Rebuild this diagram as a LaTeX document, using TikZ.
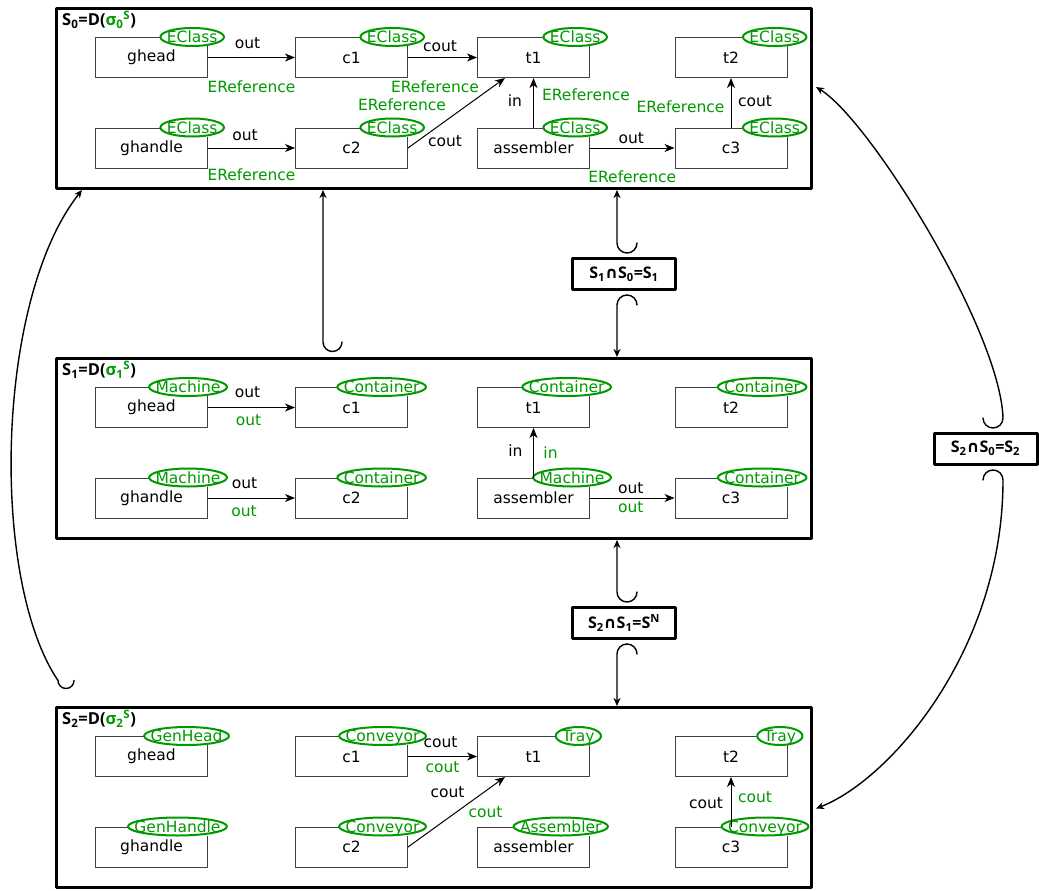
\documentclass[tikz,border=0pt]{standalone}
\usepackage{fontspec}
\setmainfont{DejaVu Sans}
\newfontfamily\headfont{Open Sans}
\newfontfamily\symfont{DejaVu Sans}
\usetikzlibrary{arrows.meta,calc}
\definecolor{clsgreen}{RGB}{0,153,0}
\newcommand\clsmark[3][18]{%
  \node[clstext,anchor=east] (#2l) at ([xshift=#1pt]#2.north east) {#3};
  \draw[clsring] let \p1=($(#2l.north east)-(#2l.center)$) in (#2l.center) ellipse ({\x1} and {\y1});}
\newcommand\capsym{{\symfont\bfseries ∩}}
\begin{document}
\begin{tikzpicture}[x=1pt,y=-1pt,line join=round,line cap=round,
  font=\fontsize{15.5}{18.5}\selectfont,
  frame/.style={draw,line width=3pt,minimum width=755pt,minimum height=180pt,inner sep=0pt},
  obj/.style={draw=black!75,line width=1pt,minimum width=112pt,minimum height=40pt,inner sep=0pt},
  clstext/.style={text=clsgreen,fill=white,inner xsep=6.5pt,inner ysep=1.5pt,text height=13pt,text depth=2pt,outer sep=0pt},
  clsring/.style={draw=clsgreen,line width=2pt},
  link/.style={-{Stealth[length=10pt,width=8pt,inset=3pt]},line width=1pt},
  jump/.style={{Stealth[length=8pt,width=7pt,inset=2.5pt]}-,line width=1.4pt},
  lbl/.style={inner sep=0pt},
  grn/.style={text=clsgreen,inner sep=0pt},
  head/.style={font=\fontsize{16.5}{19}\headfont\bfseries,inner sep=1pt},
  meet/.style={draw,line width=3pt,minimum width=103pt,minimum height=31pt,inner sep=0pt,font=\fontsize{16}{19}\headfont\bfseries}]
  \useasboundingbox (0,0) rectangle (1039,891);
  \foreach \k/\t in {0/7,1/357,2/706}{
    \node[frame] (s\k) at (434,\t+91.5) {};
    \node[head,anchor=north west] (h\k) at ([shift={(6,3)}]s\k.north west) {S\textsubscript{\k}=D(\textcolor{clsgreen}{σ\textsubscript{\k}\textsuperscript{S}})};
    \node[obj] (ghead-\k) at (151.5,\t+50.5) {ghead};
    \node[obj] (c1-\k) at (351.5,\t+50.5) {c1};
    \node[obj] (t1-\k) at (533.5,\t+50.5) {t1};
    \node[obj] (t2-\k) at (731,\t+50.5) {t2};
    \node[obj] (ghandle-\k) at (151.5,\t+141) {ghandle};
    \node[obj] (c2-\k) at (351.5,\t+141) {c2};
    \node[obj] (assembler-\k) at (533.5,\t+141) {assembler};
    \node[obj] (c3-\k) at (731,\t+141) {c3};
  }
  \foreach \b/\dx in {ghead/16,c1/16,t1/17,t2/19,ghandle/16,c2/16,assembler/17,c3/19}{\clsmark[\dx]{\b-0}{EClass}}
  \foreach \b/\c/\dx in {ghead/Machine/19,c1/Container/18,t1/Container/21,t2/Container/19,ghandle/Machine/19,c2/Container/18,assembler/Machine/21,c3/Container/19}{\clsmark[\dx]{\b-1}{\c}}
  \foreach \b/\c/\dx in {ghead/GenHead/21,c1/Conveyor/18,t1/Tray/11,t2/Tray/15,ghandle/GenHandle/19,c2/Conveyor/18,assembler/Assembler/18,c3/Conveyor/21}{\clsmark[\dx]{\b-2}{\c}}

  \draw[link] (ghead-0) -- (c1-0) node[lbl,midway,xshift=-4pt,yshift=14.5pt] (a1) {out} node[grn,midway,yshift=-29.5pt] (r1) {EReference};
  \draw[link] (c1-0) -- (t1-0) node[lbl,midway,xshift=-2.5pt,yshift=11.5pt] (a2) {cout} node[grn,midway,xshift=-7.5pt,yshift=-29pt] (r2) {EReference};
  \draw[link] (ghandle-0) -- (c2-0) node[lbl,midway,xshift=-6.5pt,yshift=13pt] (a3) {out} node[grn,midway,yshift=-27pt] (r3) {EReference};
  \draw[link] (c2-0.east) -- ([xshift=-28.5pt]t1-0.south) node[lbl,midway,xshift=-11.5pt,yshift=-28.5pt] (a4) {cout} node[grn,midway,xshift=-54.5pt,yshift=8pt] (r4) {EReference};
  \draw[link] (assembler-0) -- (t1-0) node[lbl,midway,xshift=-18.5pt,yshift=2pt] (a5) {in} node[grn,midway,xshift=52.5pt,yshift=8pt] (r5) {EReference};
  \draw[link] (assembler-0) -- (c3-0) node[lbl,midway,xshift=-1pt,yshift=10pt] (a6) {out} node[grn,midway,yshift=-28.5pt] (r6) {EReference};
  \draw[link] (c3-0) -- (t2-0) node[lbl,midway,xshift=24pt,yshift=1.5pt] (a7) {cout} node[grn,midway,xshift=-50.5pt,yshift=-4pt] (r7) {EReference};

  \draw[link] (ghead-1) -- (c1-1) node[lbl,midway,xshift=-4pt,yshift=15pt] (b1) {out} node[grn,midway,xshift=-3pt,yshift=-12.5pt] (g1) {out};
  \draw[link] (ghandle-1) -- (c2-1) node[lbl,midway,xshift=-7pt,yshift=15pt] (b2) {out} node[grn,midway,xshift=-7.5pt,yshift=-13pt] (g2) {out};
  \draw[link] (assembler-1) -- (t1-1) node[lbl,midway,xshift=-18pt,yshift=2.5pt] (b3) {in} node[grn,midway,xshift=17pt,yshift=0.5pt] (g3) {in};
  \draw[link] (assembler-1) -- (c3-1) node[lbl,midway,xshift=-1.5pt,yshift=10pt] (b4) {out} node[grn,midway,xshift=-1.5pt,yshift=-9pt] (g4) {out};

  \draw[link] (c1-2) -- (t1-2) node[lbl,midway,xshift=-2pt,yshift=14pt] (d1) {cout} node[grn,midway,yshift=-11pt] (k1) {cout};
  \draw[link] (c2-2.east) -- ([xshift=-28.5pt]t1-2.south) node[lbl,midway,xshift=-9pt,yshift=20pt] (d2) {cout} node[grn,midway,xshift=29pt] (k2) {cout};
  \draw[link] (c3-2) -- (t2-2) node[lbl,midway,xshift=-25pt,yshift=-1pt] (d3) {cout} node[grn,midway,xshift=24pt,yshift=5pt] (k3) {cout};

  \node[meet] (m10) at (624,274) {S\textsubscript{1}\capsym S\textsubscript{0}=S\textsubscript{1}};
  \node[meet] (m21) at (624,623) {S\textsubscript{2}\capsym S\textsubscript{1}=S\textsuperscript{N}};
  \node[meet] (m20) at (985.5,448.5) {S\textsubscript{2}\capsym S\textsubscript{0}=S\textsubscript{2}};

  \coordinate (j0) at ([shift={(-111,-15)}]s1.north);
  \coordinate (j1) at ([shift={(-7,-14)}]m10.north);
  \coordinate (j2) at ([shift={(-7,14)}]m10.south);
  \coordinate (j3) at ([shift={(-7,-14)}]m21.north);
  \coordinate (j4) at ([shift={(-7,14)}]m21.south);
  \coordinate (j5) at ([shift={(3,-25.5)}]s2.north west);
  \coordinate (j6) at ([shift={(17.5,-13.5)}]m20.north);
  \coordinate (j7) at ([shift={(17.5,14.5)}]m20.south);
  \draw[jump] (s0.south -| j0) -- (j0) arc[start angle=180,end angle=360,radius=9.5pt];
  \draw[jump] (s0.south -| j1) -- (j1) arc[start angle=180,end angle=360,radius=10pt];
  \draw[jump] (s1.north -| j2) -- (j2) arc[start angle=180,end angle=0,radius=10pt];
  \draw[jump] (s1.south -| j3) -- (j3) arc[start angle=180,end angle=360,radius=10pt];
  \draw[jump] (s2.north -| j4) -- (j4) arc[start angle=180,end angle=0,radius=10pt];
  \draw[jump] ([xshift=27pt]s0.south west) .. controls (-5,300) and (-10,580) .. (j5) arc[start angle=180,end angle=360,radius=8pt];
  \draw[jump] ([shift={(3,-11.5)}]s0.east) .. controls (870,120) and (1000,330) .. (j6) arc[start angle=0,end angle=-180,radius=10pt];
  \draw[jump] ([shift={(3,11)}]s2.east) .. controls (890,780) and (1003,650) .. (j7) arc[start angle=0,end angle=180,radius=10pt];
\end{tikzpicture}
\end{document}
